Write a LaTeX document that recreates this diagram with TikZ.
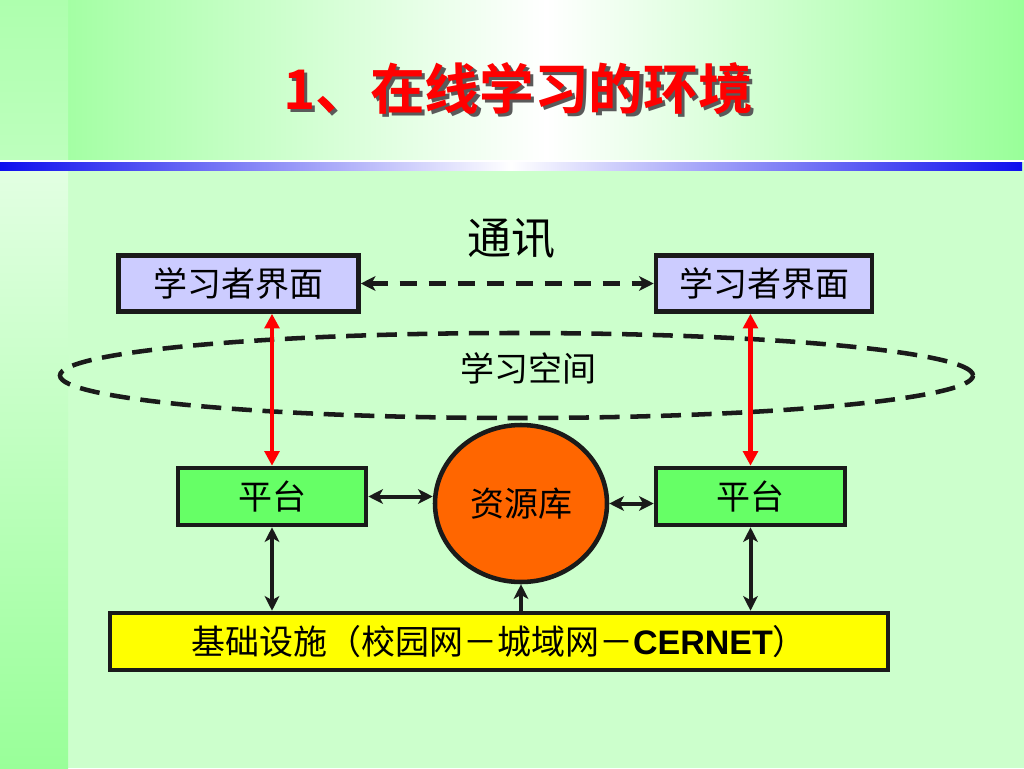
\documentclass[tikz,border=0pt]{standalone}
\usepackage{fontspec}
\setmainfont{Liberation Sans}
\newfontfamily\cjk{Noto Sans CJK SC}[BoldFont={Noto Sans CJK SC Bold}]
\usetikzlibrary{arrows.meta,shapes.geometric}
\definecolor{bodyg}{HTML}{CCFFCC}
\definecolor{headl}{HTML}{A4FFA4}
\definecolor{headr}{HTML}{99FF99}
\definecolor{stripa}{HTML}{AEFFAE}
\definecolor{stripb}{HTML}{BDFFBD}
\definecolor{stripc}{HTML}{E2FFE2}
\definecolor{stripd}{HTML}{99FF99}
\definecolor{barblue}{HTML}{0E0EEE}
\definecolor{uifill}{HTML}{CCCCFF}
\definecolor{platfill}{HTML}{66FF66}
\definecolor{resfill}{HTML}{FF6600}
\definecolor{infrafill}{HTML}{FFFF00}
\definecolor{edge}{HTML}{1A1A1A}
\definecolor{titlered}{HTML}{FF0000}
\definecolor{shadowc}{HTML}{5A5A5A}
\newcommand{\shadowtitle}[1]{\rlap{\hspace{2.6pt}\raisebox{-2.6pt}{\color{shadowc}#1}}{\color{titlered}#1}}
\tikzset{
  txt/.style={font=\cjk\fontsize{25.5}{28}\selectfont, text=black, inner sep=0pt},
  boxbase/.style={draw=edge, line width=3.4pt, inner sep=0pt, font=\cjk\fontsize{25.5}{28}\selectfont, text=black},
  uibox/.style={boxbase, fill=uifill, minimum height=42pt},
  platbox/.style={boxbase, fill=platfill, minimum height=42.75pt},
  resnode/.style={boxbase, ellipse, fill=resfill, minimum width=129pt, minimum height=117.75pt},
  infrabox/.style={boxbase, fill=infrafill, minimum width=583.5pt, minimum height=42.75pt},
  spaceell/.style={ellipse, draw=edge, line width=3.4pt, dash pattern=on 15pt off 8pt, minimum width=684.75pt, minimum height=63.75pt, inner sep=0pt},
  redarr/.style={draw=red, line width=3.2pt, {Triangle[length=11pt,width=11pt]}-{Triangle[length=11pt,width=11pt]}},
  blkarr/.style={draw=edge, line width=3pt, {Stealth[length=11pt,width=11pt,inset=3pt]}-{Stealth[length=11pt,width=11pt,inset=3pt]}},
  uparr/.style={draw=edge, line width=3.4pt, -{Stealth[length=11pt,width=11pt,inset=3pt]}},
  dasharr/.style={draw=edge, line width=3.4pt, dash pattern=on 12.75pt off 9pt, {Stealth[length=11pt,width=11pt,inset=3pt]}-{Stealth[length=11pt,width=11pt,inset=3pt]}},
  titletxt/.style={font=\cjk\bfseries\fontsize{41}{46}\selectfont, inner sep=0pt}
}
\begin{document}
\begin{tikzpicture}[x=0.75pt,y=-0.75pt]
\useasboundingbox (0,0) rectangle (1024,768);
% background
\fill[bodyg] (0,0) rectangle (1024,768);
\shade[left color=headl, right color=headr, middle color=white] (68,0) rectangle (1024,161);
\shade[top color=stripa, bottom color=stripb] (0,0) rectangle (68,161);
\shade[top color=stripc, bottom color=stripd] (0,170) rectangle (68,768);
\fill[white] (0,160) rectangle (1024,162);
\shade[left color=barblue, right color=barblue, middle color=white] (0,162) rectangle (1022,170);
% title
\node[titletxt] (title) at (518,90) {\shadowtitle{1、在线学习的环境}};
% labels
\node[txt, font=\cjk\fontsize{33}{36}\selectfont] (comm) at (511,239) {通讯};
% learning space
\node[spaceell] (space) at (516.5,375.5) {};
\node[txt] (spacelbl) at (528,368) {学习空间};
% interfaces
\node[uibox, minimum width=180pt] (lui) at (238.5,283.5) {学习者界面};
\node[uibox, minimum width=162pt] (rui) at (764,283.5) {学习者界面};
% platforms and resources
\node[platbox, minimum width=141pt] (lp) at (272,496.5) {平台};
\node[platbox, minimum width=141.75pt] (rp) at (750.5,496.5) {平台};
\node[resnode] (res) at (521,503.5) {资源库};
\node[infrabox] (infra) at (499,641.5) {基础设施（校园网－城域网－{\fontspec{Liberation Sans}\bfseries CERNET}）};
% connectors
\draw[dasharr] (lui.east) -- (rui.west);
\draw[redarr] (lp.north) -- (lp.north |- lui.south);
\draw[redarr] (rp.north) -- (rp.north |- rui.south);
\draw[blkarr] (lp.east) -- (res.west |- lp.east);
\draw[blkarr] (res.east) -- (rp.west |- res.east);
\draw[blkarr] (lp.south) -- (lp.south |- infra.north);
\draw[blkarr] (rp.south) -- (rp.south |- infra.north);
\draw[uparr] (res.south |- infra.north) -- (res.south);
\end{tikzpicture}
\end{document}
